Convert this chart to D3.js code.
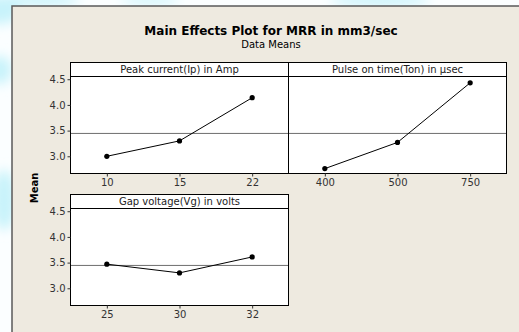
<!DOCTYPE html>
<html>
<head>
<meta charset="utf-8">
<script src="https://cdn.jsdelivr.net/npm/d3@7"></script>
<style>
html,body{margin:0;padding:0;background:#fff;}
svg{display:block;}
</style>
</head>
<body>
<svg id="chart" width="519" height="332"></svg>
<script>
// ---- data ----
const title = "Main Effects Plot for MRR in mm3/sec";
const subtitle = "Data Means";
const yLabel = "Mean";
const factorNames = ["Peak current(Ip) in Amp", "Pulse on time(Ton) in µsec", "Gap voltage(Vg) in volts"];
const ipLevels = ["10", "15", "22"];
const ipMeans = [3.00, 3.30, 4.14];
const tonLevels = ["400", "500", "750"];
const tonMeans = [2.76, 3.27, 4.43];
const vgLevels = ["25", "30", "32"];
const vgMeans = [3.47, 3.30, 3.61];
const grandMean = 3.445;
const yTicks = [3.0, 3.5, 4.0, 4.5];

const svg = d3.select("#chart");

// outer page background with soft cyan patches
const defs = svg.append("defs");
defs.append("filter").attr("id","blur").append("feGaussianBlur").attr("stdDeviation",6);
svg.append("rect").attr("width",519).attr("height",332).attr("fill","#fbfeff");
const blobs = svg.append("g").attr("filter","url(#blur)").attr("fill","#c8f3fb");
[[0,10,20,14],[40,0,40,6],[0,70,12,14],[4,200,12,30],[380,0,50,6],[150,0,30,4]].forEach(b=>{
  blobs.append("ellipse").attr("cx",b[0]).attr("cy",b[1]).attr("rx",b[2]).attr("ry",b[3]);
});

// chart frame
svg.append("rect").attr("x",12).attr("y",6).attr("width",520).attr("height",340)
  .attr("fill","#eeeae0").attr("stroke","#5a5a5a").attr("stroke-width",1.5);

const font = "DejaVu Sans, Verdana, sans-serif";

svg.append("text").attr("x",271).attr("y",35).attr("text-anchor","middle")
  .attr("font-family",font).attr("font-weight","bold").attr("font-size",12).attr("fill","#000").text(title);
svg.append("text").attr("x",271).attr("y",48).attr("text-anchor","middle")
  .attr("font-family",font).attr("font-size",10).attr("fill","#000").text(subtitle);

svg.append("text").attr("transform","translate(38,188) rotate(-90)").attr("text-anchor","middle")
  .attr("font-family",font).attr("font-weight","bold").attr("font-size",10).attr("fill","#000").text(yLabel);

const pw = 218, stripH = 14, plotH = 97;
const panels = [
  {name: factorNames[0], levels: ipLevels, means: ipMeans, x: 70.5, y: 62.5, yAxis: true},
  {name: factorNames[1], levels: tonLevels, means: tonMeans, x: 70.5 + pw, y: 62.5, yAxis: false},
  {name: factorNames[2], levels: vgLevels, means: vgMeans, x: 70.5, y: 194.5, yAxis: true}
];

panels.forEach(p => {
  const g = svg.append("g").attr("transform", `translate(${p.x},${p.y})`);
  const x = d3.scalePoint().domain(p.levels).range([0, pw]).padding(0.5);
  const y = d3.scaleLinear().domain([2.665, 4.553]).range([stripH + plotH, stripH]);

  g.append("rect").attr("x",0).attr("y",0).attr("width",pw).attr("height",stripH+plotH)
    .attr("fill","#fff");

  // reference line
  g.append("line").attr("x1",0).attr("x2",pw).attr("y1",y(grandMean)).attr("y2",y(grandMean))
    .attr("stroke","#6e6e6e").attr("stroke-width",1);

  // data line and points
  const data = p.levels.map((l,i)=>({l, v:p.means[i]}));
  g.append("path").datum(data)
    .attr("d", d3.line().x(d=>x(d.l)).y(d=>y(d.v)))
    .attr("fill","none").attr("stroke","#000").attr("stroke-width",1);
  g.selectAll("circle").data(data).join("circle")
    .attr("cx",d=>x(d.l)).attr("cy",d=>y(d.v)).attr("r",2.6).attr("fill","#000");

  // strip
  g.append("line").attr("x1",0).attr("x2",pw).attr("y1",stripH).attr("y2",stripH).attr("stroke","#000");
  g.append("text").attr("x",pw/2).attr("y",stripH-3.5).attr("text-anchor","middle")
    .attr("font-family",font).attr("font-size",10).attr("fill","#222").text(p.name);
  g.append("rect").attr("x",0).attr("y",0).attr("width",pw).attr("height",stripH+plotH)
    .attr("fill","none").attr("stroke","#000").attr("stroke-width",1);

  // x axis
  const xa = g.append("g").attr("transform",`translate(0,${stripH+plotH})`)
    .call(d3.axisBottom(x).tickSize(3).tickPadding(2));
  xa.select(".domain").remove();
  xa.selectAll("line").attr("stroke","#333");
  xa.selectAll("text").attr("font-family",font).attr("font-size",10).attr("fill","#333");

  if (p.yAxis) {
    const ya = g.append("g").call(d3.axisLeft(y).tickValues(yTicks).tickFormat(d3.format(".1f")).tickSize(3).tickPadding(2));
    ya.select(".domain").remove();
    ya.selectAll("line").attr("stroke","#333");
    ya.selectAll("text").attr("font-family",font).attr("font-size",10).attr("fill","#333");
  }
});
</script>
</body>
</html>
